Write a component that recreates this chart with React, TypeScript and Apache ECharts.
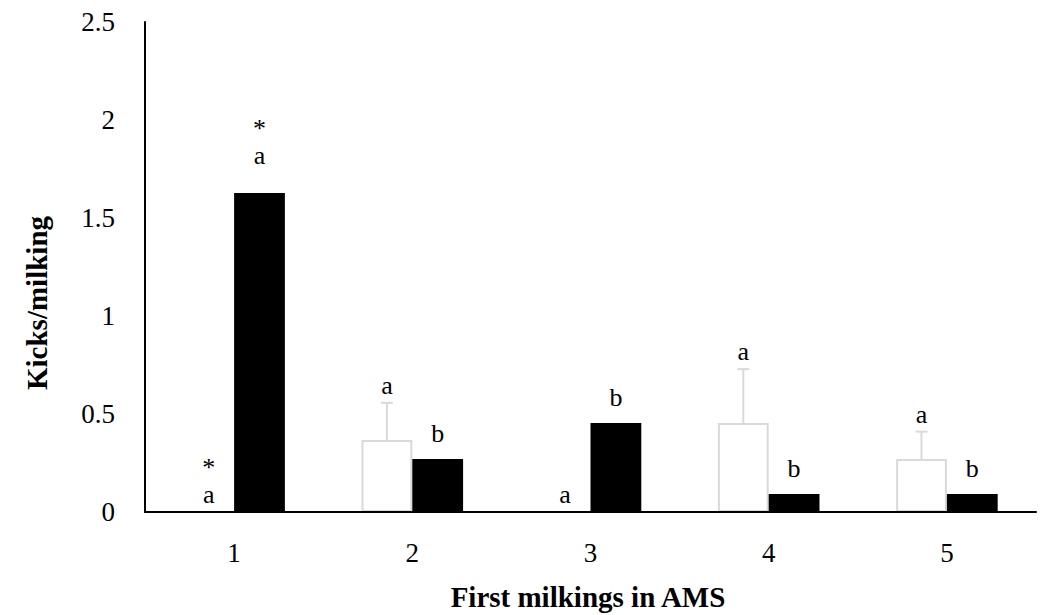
import React, { useEffect, useRef } from "react";
import * as echarts from "echarts";

const categories = ["1", "2", "3", "4", "5"];
const whiteMean = [0, 0.367, 0, 0.454, 0.27];
const whiteErr = [0, 0.19, 0, 0.275, 0.14];
const blackMean = [1.628, 0.27, 0.454, 0.092, 0.092];
const blackErr = [0.06, 0, 0, 0, 0];
const whiteLetters = ["*\na", "a", "a", "a", "a"];
const blackLetters = ["*\na", "b", "b", "b", "b"];
const yMin = 0;
const yMax = 2.5;
const yInterval = 0.5;

const FONT = "'Liberation Serif', 'DejaVu Serif', serif";
const GAP_RATIO = 0.43;

function makeAnnot(side: number, means: number[], errs: number[], letters: string[], errColor: string, labelGap: number) {
  return {
    type: "custom",
    z: 5,
    data: means.map((m, i) => [i, m, errs[i]]),
    renderItem: (params: any, api: any) => {
      const i = api.value(0);
      const mean = api.value(1);
      const err = api.value(2);
      const base = api.coord([i, mean]);
      const top = api.coord([i, mean + err]);
      const band = api.size([1, 0])[0];
      const bw = (band * (1 - GAP_RATIO)) / 2;
      const x = base[0] + (side * bw) / 2;
      const children: any[] = [];
      if (err > 0) {
        children.push({
          type: "line",
          shape: { x1: x, y1: base[1], x2: x, y2: top[1] },
          style: { stroke: errColor, lineWidth: 2 },
        });
        children.push({
          type: "line",
          shape: { x1: x - 6, y1: top[1], x2: x + 6, y2: top[1] },
          style: { stroke: errColor, lineWidth: 2 },
        });
      }
      children.push({
        type: "text",
        x: x,
        y: top[1] - labelGap,
        style: {
          text: letters[params.dataIndex],
          align: "center",
          verticalAlign: "bottom",
          fontFamily: FONT,
          fontSize: 26,
          lineHeight: 27,
          fill: "#000",
        },
      });
      return { type: "group", children };
    },
  };
}

export default function App() {
  const ref = useRef<HTMLDivElement>(null);
  useEffect(() => {
    if (!ref.current) return;
    const chart = echarts.init(ref.current, null, { renderer: "svg" });
    chart.setOption({
      animation: false,
      backgroundColor: "#fff",
      grid: { left: 145, top: 22, right: 5, bottom: 103 },
      xAxis: {
        type: "category",
        data: categories,
        axisLine: { show: true, lineStyle: { color: "#000", width: 2 } },
        axisTick: { show: false },
        axisLabel: { color: "#000", fontFamily: FONT, fontSize: 27, margin: 27 },
        splitLine: { show: false },
        z: 10,
      },
      yAxis: {
        type: "value",
        min: yMin,
        max: yMax,
        interval: yInterval,
        axisLine: { show: true, lineStyle: { color: "#000", width: 2 } },
        axisTick: { show: false },
        splitLine: { show: false },
        axisLabel: { color: "#000", fontFamily: FONT, fontSize: 27, margin: 30 },
        z: 10,
      },
      graphic: [
        {
          type: "text",
          x: 37,
          y: 303,
          rotation: Math.PI / 2,
          style: {
            text: "Kicks/milking",
            align: "center",
            verticalAlign: "middle",
            fontFamily: FONT,
            fontWeight: "bold",
            fontSize: 29,
            fill: "#000",
          },
        },
        {
          type: "text",
          x: 588,
          y: 597,
          style: {
            text: "First milkings in AMS",
            align: "center",
            verticalAlign: "middle",
            fontFamily: FONT,
            fontWeight: "bold",
            fontSize: 29,
            fill: "#000",
          },
        },
      ],
      series: [
        {
          type: "bar",
          data: whiteMean.map((v) => (v === 0 ? { value: v, itemStyle: { borderWidth: 0 } } : v)),
          barGap: "0%",
          barCategoryGap: GAP_RATIO * 100 + "%",
          itemStyle: { color: "#ffffff", borderColor: "#d9d9d9", borderWidth: 2 },
        },
        {
          type: "bar",
          data: blackMean,
          barGap: "0%",
          barCategoryGap: GAP_RATIO * 100 + "%",
          itemStyle: { color: "#000000" },
        },
        makeAnnot(-1, whiteMean, whiteErr, whiteLetters, "#d9d9d9", 4),
        makeAnnot(1, blackMean, blackErr, blackLetters, "#ffffff", 12),
      ],
    });
    return () => chart.dispose();
  }, []);
  return <div ref={ref} style={{ position: "fixed", left: 0, top: 0, width: 1041, height: 615 }} />;
}
